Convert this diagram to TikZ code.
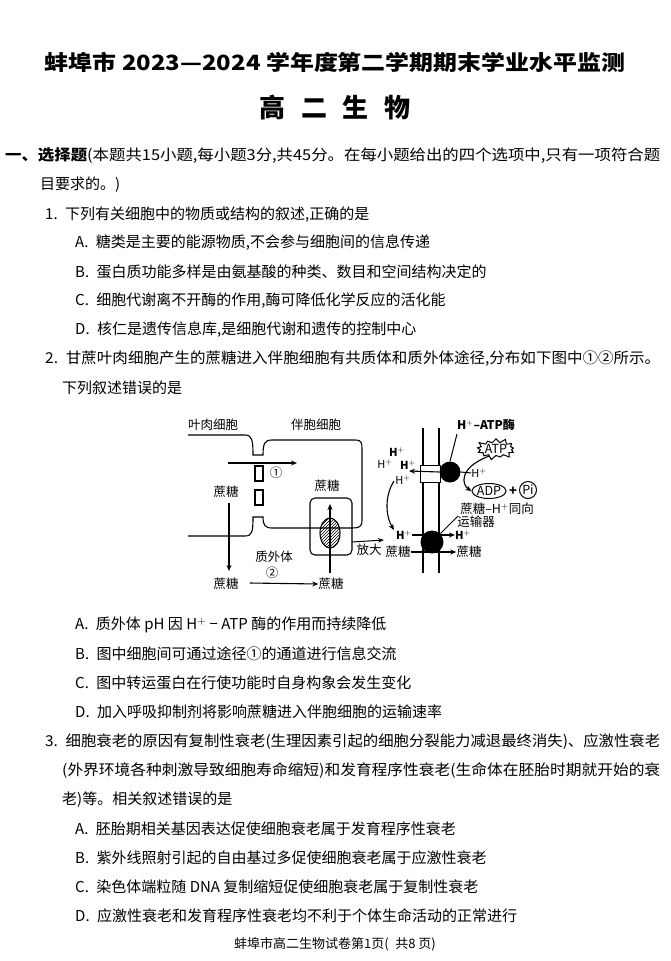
\documentclass[tikz,border=0pt]{standalone}
\usepackage{fontspec}
\usepackage{graphicx}
\setmainfont{Noto Sans CJK SC}
\usetikzlibrary{shapes.symbols,shapes.geometric,patterns,arrows.meta}
\newcommand\fitw[2]{\resizebox{#1}{\height}{#2}}
\begin{document}
\begin{tikzpicture}[x=1pt,y=-1pt,
  body/.style={anchor=west,inner sep=0pt,font=\fontsize{15}{16}\selectfont},
  fig/.style={inner sep=0pt,font=\fontsize{12.5}{13}\selectfont},
  ln/.style={line width=1.1pt},
  arr/.style={line width=1.1pt,-{Stealth[length=6pt,width=5pt]}}]
\useasboundingbox[fill=white] (0,0) rectangle (670,961);
% header
\node[inner sep=0pt,font=\fontsize{21}{24}\bfseries\selectfont] (title) at (335,62) {\fitw{580pt}{蚌埠市 2023—2024 学年度第二学期期末学业水平监测}};
\node[inner sep=0pt,font=\fontsize{26}{30}\bfseries\selectfont] (subj) at (335,108) {高\hspace{0.6em}二\hspace{0.6em}生\hspace{0.6em}物};
\node[body] (s1) at (5,156) {\fitw{655pt}{\textbf{一、选择题}(本题共15小题,每小题3分,共45分。在每小题给出的四个选项中,只有一项符合题}};
\node[body] (s1b) at (40,185) {目要求的。)};
\node[body] (q1) at (45,215) {1.\enspace 下列有关细胞中的物质或结构的叙述,正确的是};
\node[body] (q1a) at (75,243) {A.\enspace 糖类是主要的能源物质,不会参与细胞间的信息传递};
\node[body] (q1b) at (75,272) {B.\enspace 蛋白质功能多样是由氨基酸的种类、数目和空间结构决定的};
\node[body] (q1c) at (75,301) {C.\enspace 细胞代谢离不开酶的作用,酶可降低化学反应的活化能};
\node[body] (q1d) at (75,330) {D.\enspace 核仁是遗传信息库,是细胞代谢和遗传的控制中心};
\node[body] (q2) at (45,359) {\fitw{615pt}{2.\enspace 甘蔗叶肉细胞产生的蔗糖进入伴胞细胞有共质体和质外体途径,分布如下图中①②所示。}};
\node[body] (q2b) at (62,388) {下列叙述错误的是};
\node[body] (q2a) at (75,625) {A.\enspace 质外体 pH 因 H$^{+}$ − ATP 酶的作用而持续降低};
\node[body] (q2bb) at (75,654) {B.\enspace 图中细胞间可通过途径①的通道进行信息交流};
\node[body] (q2c) at (75,683) {C.\enspace 图中转运蛋白在行使功能时自身构象会发生变化};
\node[body] (q2d) at (75,712) {D.\enspace 加入呼吸抑制剂将影响蔗糖进入伴胞细胞的运输速率};
\node[body] (q3) at (45,742) {\fitw{615pt}{3.\enspace 细胞衰老的原因有复制性衰老(生理因素引起的细胞分裂能力减退最终消失)、应激性衰老}};
\node[body] (q3l2) at (62,771) {\fitw{598pt}{(外界环境各种刺激导致细胞寿命缩短)和发育程序性衰老(生命体在胚胎时期就开始的衰}};
\node[body] (q3l3) at (62,800) {老)等。相关叙述错误的是};
\node[body] (q3a) at (75,829) {A.\enspace 胚胎期相关基因表达促使细胞衰老属于发育程序性衰老};
\node[body] (q3b) at (75,858) {B.\enspace 紫外线照射引起的自由基过多促使细胞衰老属于应激性衰老};
\node[body] (q3c) at (75,887) {C.\enspace 染色体端粒随 DNA 复制缩短促使细胞衰老属于复制性衰老};
\node[body] (q3d) at (75,916) {D.\enspace 应激性衰老和发育程序性衰老均不利于个体生命活动的正常进行};
\node[inner sep=0pt,font=\fontsize{13}{15}\selectfont] (foot) at (335,944) {蚌埠市高二生物试卷第1页(\enspace 共8 页)};
% ---------- figure left ----------
\node[fig] (lmeso) at (213,425) {叶肉细胞};
\node[fig] (lcomp) at (316,425) {伴胞细胞};
\draw[ln] (188,435) -- (245,435) .. controls (252,435) and (253,440) .. (253,455) -- (263,455) .. controls (263,443) and (265,440) .. (272,440) -- (355,440) .. controls (362,440) and (362,443) .. (362,450) -- (362,520) .. controls (362,527) and (359,528) .. (352,528) -- (272,528) .. controls (265,528) and (263,525) .. (263,517) -- (253,517) .. controls (253,532) and (252,536) .. (245,536) -- (188,536);
\draw[ln] (255,466) rectangle (263,481);
\draw[ln] (255,490) rectangle (263,505);
\coordinate (a1s) at (228,463); \coordinate (a1e) at (297,463);
\draw[arr] (a1s) -- (a1e);
\node[fig] (c1) at (276,473) {①};
\node[fig] (suc1) at (226,492) {蔗糖};
\coordinate (dst) at (229,503); \coordinate (dend) at (229,571);
\draw[arr] (dst) -- (dend);
\node[fig] (apo) at (274,557) {质外体};
\node[fig] (suc2) at (226,584) {蔗糖};
\node[fig] (c2) at (272,573) {②};
\node[fig] (suc3) at (331,584) {蔗糖};
\coordinate (b2s) at (250,583);
\draw[arr] (b2s) -- (suc3.west);
\node[fig] (suc4) at (327,486) {蔗糖};
\draw[ln,rounded corners=5pt] (310,498) rectangle (352,555);
\node[ellipse,draw,line width=1.1pt,minimum width=20pt,minimum height=30pt,inner sep=0pt,pattern=north east lines,pattern color=black] (ell) at (330,533) {};
\coordinate (vst) at (330,573); \coordinate (vend) at (330,504);
\draw[arr] (vst) -- (vend);
\node[fig] (fd) at (369,550) {放大};
\coordinate (fda) at (352,542); \coordinate (fdb) at (384,540);
\draw[line width=1pt,-{Stealth[length=6pt]}] (fda) -- (fdb);
% ---------- figure right ----------
\coordinate (m1t) at (423,428); \coordinate (m1b) at (423,573);
\coordinate (m2t) at (439,428); \coordinate (m2b) at (439,573);
\draw[ln] (m1t) -- (m1b); \draw[ln] (m2t) -- (m2b);
\node[draw,line width=1pt,fill=white,minimum width=20pt,minimum height=17pt,inner sep=0pt] (chan) at (430,474) {};
\node[circle,fill=black,minimum size=21pt,inner sep=0pt] (pump) at (450,472) {};
\node[fig,font=\fontsize{12}{13}\bfseries\selectfont] (patp) at (486,425) {H$^{+}$–ATP酶};
\coordinate (pl) at (457,434);
\draw[line width=1pt] (pl) -- (pump.north);
\node[starburst,draw,line width=1pt,fill=white,starburst points=13,starburst point height=5pt,minimum width=38pt,minimum height=22pt,inner sep=0pt,fig] (atp) at (496,449) {ATP};
\node[fig,font=\fontsize{11}{12}\bfseries\selectfont] (h1) at (397,452) {H$^{+}$};
\node[fig,font=\fontsize{11}{12}\selectfont] (h2) at (385,464) {H$^{+}$};
\node[fig,font=\fontsize{11}{12}\bfseries\selectfont] (h3) at (408,465) {H$^{+}$};
\node[fig,font=\fontsize{11}{12}\selectfont] (h4) at (403,480) {H$^{+}$};
\coordinate (hl) at (409,471);
\draw[arr] (pump.west) -- (hl);
\node[fig,font=\fontsize{11}{12}\selectfont] (h5) at (479,473) {H$^{+}$};
\draw[line width=1pt] (pump.east) -- (h5.west);
\node[ellipse,draw,line width=1pt,minimum width=32pt,minimum height=15pt,inner sep=0pt,fig] (adp) at (489,491) {ADP};
\node[fig,font=\fontsize{13}{13}\bfseries\selectfont] (plus) at (513,491) {+};
\node[circle,draw,line width=1pt,minimum size=17pt,inner sep=0pt,fig] (pi) at (528,490) {Pi};
\draw[arr] (atp.south west) .. controls (458,468) and (462,485) .. (adp.west);
\node[fig] (sym1) at (497,509) {蔗糖–H$^{+}$同向};
\node[fig] (sym2) at (476,522) {运输器};
\coordinate (cst) at (394,481); \coordinate (cend) at (394,530);
\draw[arr] (cst) .. controls (385,495) and (385,515) .. (cend);
\node[fig,font=\fontsize{11}{12}\bfseries\selectfont] (h6) at (404,535) {H$^{+}$};
\node[fig,font=\fontsize{11}{12}\bfseries\selectfont] (h7) at (463,535) {H$^{+}$};
\draw[arr] (h6.east) -- (h7.west);
\node[fig] (suc5) at (398,552) {蔗糖};
\node[fig] (suc6) at (469,552) {蔗糖};
\draw[arr] (suc5.east) -- (suc6.west);
\node[circle,fill=black,minimum size=23pt,inner sep=0pt] (sym) at (432,542) {};
\coordinate (sl) at (458,516);
\draw[line width=1pt] (sl) -- (sym.north east);
\end{tikzpicture}
\end{document}
